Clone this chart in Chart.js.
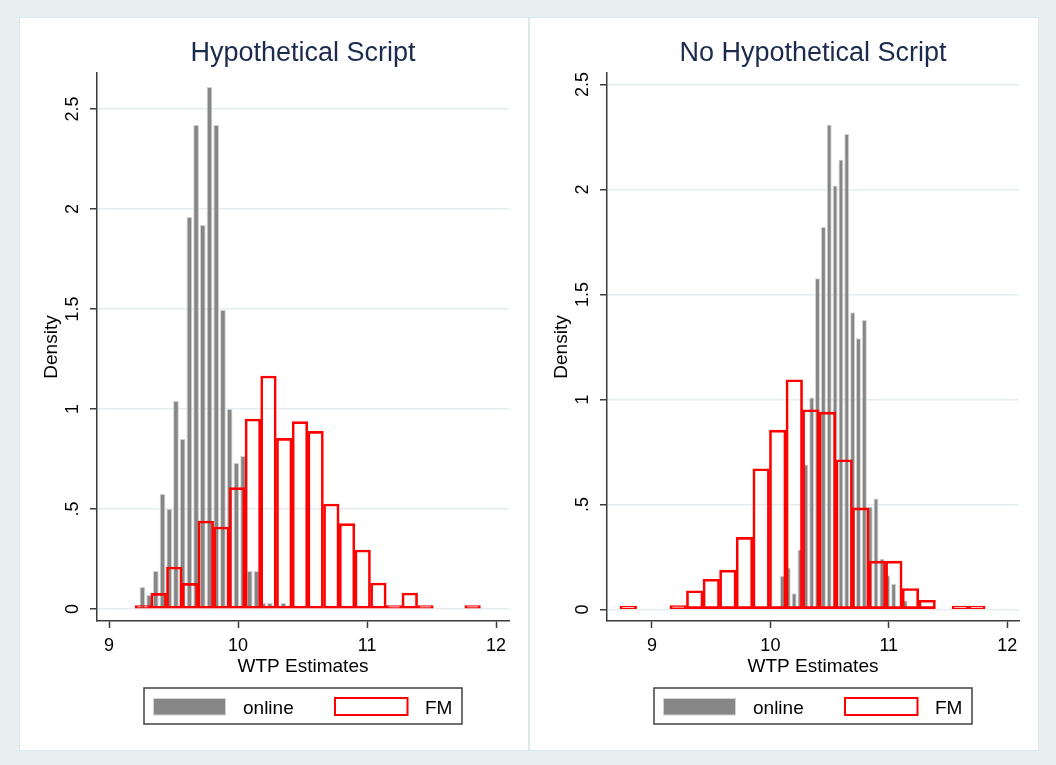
<!DOCTYPE html>
<html>
<head>
<meta charset="utf-8">
<script src="https://cdn.jsdelivr.net/npm/chart.js@4.4.0/dist/chart.umd.min.js"></script>
<style>
  html, body { margin: 0; padding: 0; background: #e8eff1; }
  body { width: 1056px; height: 765px; position: relative; overflow: hidden; }
  .panel { position: absolute; top: 18px; width: 508px; height: 732px; background: #ffffff; box-shadow: 0 0 0 1px #dde6e9; }
  #leftPanel { left: 20px; }
  #rightPanel { left: 530px; }
</style>
</head>
<body>
<div class="panel" id="leftPanel"><canvas id="hypoChart" width="508" height="732"></canvas></div>
<div class="panel" id="rightPanel"><canvas id="noHypoChart" width="508" height="732"></canvas></div>
<script>
// histogram bin midpoints and densities
const xTicks = [9, 10, 11, 12];
const yTicks = [0, 0.5, 1, 1.5, 2, 2.5];
const yTickLabels = ['0', '.5', '1', '1.5', '2', '2.5'];
const seriesLabels = ['online', 'FM'];

const hypoOnlineBins = [9.259, 9.311, 9.363, 9.415, 9.467, 9.519, 9.571, 9.623, 9.675, 9.727, 9.779,
    9.831, 9.883, 9.935, 9.987, 10.039, 10.091, 10.143, 10.195, 10.247, 10.299, 10.351];
const hypoOnlineDensity = [0.11, 0.07, 0.19, 0.575, 0.50, 1.04, 0.85, 1.96, 2.42, 1.92, 2.61,
    2.42, 1.495, 1.00, 0.73, 0.765, 0.19, 0.19, 0.03, 0.03, 0, 0.03];
const hypoFmBins = [9.263, 9.385, 9.506, 9.628, 9.750, 9.871, 9.993, 10.115, 10.236, 10.358, 10.480,
    10.601, 10.723, 10.845, 10.966, 11.088, 11.210, 11.331, 11.453, 11.575, 11.696, 11.818];
const hypoFmDensity = [0.017, 0.078, 0.21, 0.128, 0.44, 0.41, 0.607, 0.95, 1.165, 0.853, 0.937,
    0.888, 0.525, 0.427, 0.295, 0.13, 0.017, 0.08, 0.017, 0, 0, 0.017];

const noHypoOnlineBins = [10.102, 10.151, 10.201, 10.250, 10.300, 10.349, 10.398, 10.448, 10.497, 10.547, 10.596,
    10.645, 10.695, 10.744, 10.794, 10.843, 10.892, 10.942, 10.991, 11.041, 11.090, 11.139];
const noHypoOnlineDensity = [0.16, 0.20, 0.077, 0.286, 0.69, 1.01, 1.578, 1.822, 2.308, 2.019, 2.143,
    2.265, 1.416, 1.292, 1.378, 0.489, 0.528, 0.241, 0.163, 0.122, 0, 0.043];
const noHypoFmBins = [8.800, 8.940, 9.080, 9.221, 9.361, 9.501, 9.641, 9.781, 9.922, 10.062, 10.202,
    10.342, 10.482, 10.623, 10.763, 10.903, 11.043, 11.183, 11.324, 11.464, 11.604, 11.744];
const noHypoFmDensity = [0.016, 0, 0, 0.018, 0.089, 0.144, 0.187, 0.343, 0.67, 0.854, 1.094,
    0.951, 0.94, 0.713, 0.484, 0.23, 0.23, 0.10, 0.044, 0, 0.016, 0.016];

const FONT = '"Liberation Sans", Arial, sans-serif';
const AXIS_COLOR = '#3c3c3c';

// titles, rotated y labels and the boxed legend, stata style
const panelText = {
    id: 'panelText',
    afterDraw(chart, args, opts) {
        const ctx = chart.ctx;
        const area = chart.chartArea;
        const yScale = chart.scales.y;
        const cx = (area.left + area.right) / 2;
        ctx.save();
        ctx.textAlign = 'center';
        ctx.textBaseline = 'alphabetic';

        ctx.fillStyle = '#1c2b4d';
        ctx.font = '27px ' + FONT;
        ctx.fillText(opts.title, cx, 43);

        ctx.fillStyle = '#000';
        ctx.font = '18px ' + FONT;
        yTicks.forEach((v, i) => {
            ctx.save();
            ctx.translate(area.left - 19, yScale.getPixelForValue(v));
            ctx.rotate(-Math.PI / 2);
            ctx.fillText(yTickLabels[i], 0, 0);
            ctx.restore();
        });

        ctx.font = '19px ' + FONT;
        ctx.save();
        ctx.translate(area.left - 40, (area.top + area.bottom) / 2);
        ctx.rotate(-Math.PI / 2);
        ctx.fillText('Density', 0, 0);
        ctx.restore();

        ctx.fillText('WTP Estimates', cx, 653.5);

        // legend
        const ds = chart.data.datasets;
        const bx = cx - 159;
        ctx.lineWidth = 1.5;
        ctx.strokeStyle = '#404040';
        ctx.strokeRect(bx, 670, 318, 36);

        ctx.fillStyle = ds[0].borderColor;
        ctx.fillRect(bx + 9, 680, 73, 17.5);
        ctx.fillStyle = ds[0].backgroundColor;
        ctx.fillRect(bx + 10, 681, 71, 15.5);

        ctx.strokeStyle = ds[1].borderColor;
        ctx.lineWidth = 2;
        ctx.strokeRect(bx + 191, 680, 72.5, 17);

        ctx.fillStyle = '#000';
        ctx.textAlign = 'left';
        ctx.fillText(ds[0].label, bx + 99, 695.5);
        ctx.fillText(ds[1].label, bx + 281, 695.5);
        ctx.restore();
    }
};

const toPoints = (bins, dens) => bins.map((b, i) => ({ x: b, y: dens[i] }));

const makeHistChart = (canvasId, title, onlineBins, onlineDens, fmBins, fmDens, xMin, xMax, yMin, yMax) => {
    const ctx = document.getElementById(canvasId).getContext('2d');
    new Chart(ctx, {
        type: 'bar',
        data: {
            datasets: [{
                label: seriesLabels[0],
                data: toPoints(onlineBins, onlineDens),
                xAxisID: 'x',
                order: 1,
                grouped: false,
                backgroundColor: '#868686',
                borderColor: '#d2d2d2',
                borderWidth: 1,
                categoryPercentage: 1,
                barPercentage: 0.85,
            }, {
                label: seriesLabels[1],
                data: toPoints(fmBins, fmDens),
                xAxisID: 'x2',
                order: 0,
                grouped: false,
                backgroundColor: 'rgba(0,0,0,0)',
                borderColor: '#ff0000',
                borderWidth: 2,
                borderSkipped: false,
                categoryPercentage: 1,
                barPercentage: 1,
            }],
        },
        options: {
            responsive: false,
            animation: false,
            devicePixelRatio: 1,
            layout: { padding: { top: 55, right: 19, left: 0, bottom: 0 } },
            plugins: {
                legend: { display: false },
                tooltip: { enabled: false },
                panelText: { title: title },
            },
            scales: {
                x: {
                    type: 'linear',
                    offset: false,
                    min: xMin,
                    max: xMax,
                    afterBuildTicks: s => { s.ticks = xTicks.map(v => ({ value: v })); },
                    afterFit: s => { s.height = 129; },
                    grid: { offset: false, drawOnChartArea: false, drawTicks: true, tickLength: 7, tickColor: AXIS_COLOR, tickWidth: 1.5 },
                    border: { display: true, color: AXIS_COLOR, width: 1.5 },
                    ticks: {
                        color: '#000',
                        font: { family: FONT, size: 18 },
                        padding: 7,
                        maxRotation: 0,
                        autoSkip: false,
                        callback: v => String(v),
                    },
                },
                x2: { type: 'linear', offset: false, display: false, min: xMin, max: xMax, grid: { offset: false } },
                y: {
                    min: yMin,
                    max: yMax,
                    afterBuildTicks: s => { s.ticks = yTicks.map(v => ({ value: v })); },
                    afterFit: s => { s.width = 77; },
                    grid: { color: '#e6edf0', lineWidth: 1.5, drawTicks: true, tickLength: 7, tickColor: AXIS_COLOR, tickWidth: 1.5 },
                    border: { display: true, color: AXIS_COLOR, width: 1.5 },
                    ticks: { display: false },
                },
            },
        },
        plugins: [panelText],
    });
};

makeHistChart('hypoChart', 'Hypothetical Script', hypoOnlineBins, hypoOnlineDensity, hypoFmBins, hypoFmDensity,
    8.907, 12.10, -0.06, 2.68);
makeHistChart('noHypoChart', 'No Hypothetical Script', noHypoOnlineBins, noHypoOnlineDensity, noHypoFmBins, noHypoFmDensity,
    8.62, 12.10, -0.055, 2.555);
</script>
</body>
</html>
